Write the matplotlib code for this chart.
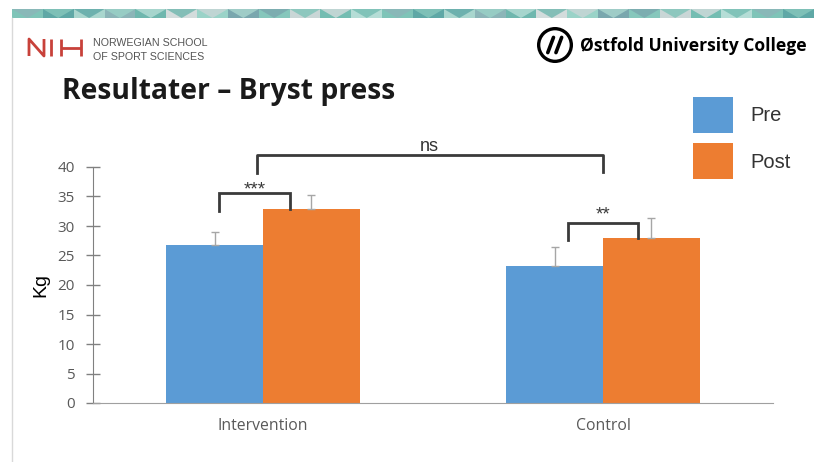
import matplotlib
matplotlib.use("Agg")
import matplotlib.pyplot as plt
from matplotlib.patches import Polygon, Rectangle, Circle
from matplotlib.lines import Line2D
import numpy as np

# ---- data ----
categories = ["Intervention", "Control"]
series_names = ["Pre", "Post"]
pre_values = [26.8, 23.3]
post_values = [32.9, 27.9]
pre_errors = [2.2, 3.1]
post_errors = [2.35, 3.5]
yticks = [0, 5, 10, 15, 20, 25, 30, 35, 40]
sig_labels = ["***", "**", "ns"]

BLUE = "#5B9BD5"
ORANGE = "#ED7D31"

W, H = 814, 462
fig = plt.figure(figsize=(W / 100, H / 100), dpi=100)
fig.patch.set_facecolor("white")

def fx(px):
    return px / W

def fy(py):
    return 1 - py / H

def fline(xs, ys, **kw):
    fig.lines.append(Line2D([fx(v) for v in xs], [fy(v) for v in ys],
                            transform=fig.transFigure, **kw))

# ---- decorative header band ----
band_cols = ["#7FC4B8", "#5FA8A6", "#A9D6CE", "#8CB5B8", "#6FB7AE", "#D3DCDC",
             "#9AD3C8", "#7AA7AE", "#86C7BC", "#C9D6D6", "#74BDB2", "#B5DDD6"]
x0, x1 = 12, 814
yt, yb = 9, 18
n = 26
step = (x1 - x0) / n
for i in range(n):
    xa = x0 + i * step
    col = band_cols[i % len(band_cols)]
    col2 = band_cols[(i * 5 + 3) % len(band_cols)]
    fig.patches.append(Rectangle((fx(xa), fy(yb)), step / W, (yb - yt) / H,
                                 transform=fig.transFigure, facecolor=col, edgecolor="none"))
    fig.patches.append(Polygon([(fx(xa), fy(yt)), (fx(xa + step), fy(yt)), (fx(xa + step / 2), fy(yb))],
                               closed=True, transform=fig.transFigure, facecolor=col2,
                               edgecolor="none", alpha=0.8))
# left border line
fline([12, 12], [18, 462], color="#D9D9D9", lw=1)

# ---- NIH logo (thin letters) ----
red = "#C8413A"
lkw = dict(color=red, lw=2.0, solid_capstyle="butt")
fline([29, 29, 44, 44], [56, 39, 56, 39], **lkw)          # N
fline([51, 51], [39, 56], **lkw)                          # I
fline([61, 61], [39, 56], **lkw)                          # H
fline([81, 81], [39, 56], **lkw)
fline([61, 81], [47.5, 47.5], **lkw)
fig.text(fx(93), fy(43), "NORWEGIAN SCHOOL", color="#555555", fontsize=7.7,
         family="Liberation Sans", va="center", ha="left")
fig.text(fx(93), fy(57), "OF SPORT SCIENCES", color="#555555", fontsize=7.7,
         family="Liberation Sans", va="center", ha="left")

# ---- Østfold logo ----
ax_logo = fig.add_axes([fx(536), fy(64), 38 / W, 38 / H])
ax_logo.set_xlim(-1, 1)
ax_logo.set_ylim(-1, 1)
ax_logo.set_aspect("equal")
ax_logo.axis("off")
ax_logo.add_patch(Circle((0, 0), 0.86, facecolor="white", edgecolor="black", lw=2.4))
ax_logo.plot([-0.38, -0.08], [-0.4, 0.4], color="black", lw=2.6, solid_capstyle="round")
ax_logo.plot([0.05, 0.35], [-0.4, 0.4], color="black", lw=2.6, solid_capstyle="round")
fig.text(fx(580), fy(46), "Østfold University College", color="black", fontsize=12.6,
         family="Open Sans", fontweight="bold", va="center", ha="left")

# ---- title ----
fig.text(fx(62), fy(92), "Resultater – Bryst press", color="#1a1a1a", fontsize=20.3,
         family="Open Sans", fontweight="bold", va="center", ha="left")

# ---- chart ----
ax = fig.add_axes([fx(93), fy(403), (773 - 93) / W, (403 - 167) / H])
x = np.arange(len(categories))
bw = 0.285
ax.bar(x - bw / 2, pre_values, bw, color=BLUE, label=series_names[0], zorder=2)
ax.bar(x + bw / 2, post_values, bw, color=ORANGE, label=series_names[1], zorder=2)
err_kw = dict(fmt="none", ecolor="#A6A6A6", elinewidth=1, capsize=3, capthick=1, zorder=3)
ax.errorbar(x - bw / 2, pre_values, yerr=[np.zeros(len(pre_errors)), pre_errors], **err_kw)
ax.errorbar(x + bw / 2, post_values, yerr=[np.zeros(len(post_errors)), post_errors], **err_kw)

ax.set_xlim(-0.5, 1.5)
ax.set_ylim(0, 40)
ax.set_yticks(yticks)
ax.set_xticks(x)
ax.set_xticklabels(categories, fontsize=11.3, color="#595959", family="Open Sans")
for lbl in ax.get_yticklabels():
    lbl.set_fontsize(11)
    lbl.set_color("#595959")
    lbl.set_family("Open Sans")
ax.tick_params(axis="x", length=0, pad=11)
ax.tick_params(axis="y", direction="inout", length=10, width=1, color="#808080", pad=8)
for s in ["top", "right"]:
    ax.spines[s].set_visible(False)
ax.spines["left"].set_color("#808080")
ax.spines["bottom"].set_color("#A0A0A0")
ax.set_ylabel("Kg", fontsize=14, family="Liberation Sans", color="black", labelpad=6)

# significance brackets
bc = "#3A3A3A"
def bracket(xl, xr, ytop, yl, yr, text, ty):
    ax.plot([xl, xl, xr, xr], [yl, ytop, ytop, yr], color=bc, lw=2, clip_on=False, zorder=4,
            solid_joinstyle="miter")
    ax.text((xl + xr) / 2, ty, text, ha="center", va="baseline", fontsize=13.5, color=bc,
            family="Liberation Sans", clip_on=False)

bracket(x[0] - 0.129, x[0] + 0.079, 35.6, 32.5, 32.9, sig_labels[0], 35.3)
bracket(x[1] - 0.103, x[1] + 0.103, 30.5, 27.6, 27.9, sig_labels[1], 31.1)
ax.plot([x[0] - 0.018, x[0] - 0.018, x[1], x[1]], [39.0, 42.0, 42.0, 39.2], color=bc, lw=2,
        clip_on=False, zorder=4)
ax.text(0.49, 42.0, sig_labels[2], ha="center", va="bottom", fontsize=13, color="#333333",
        family="Liberation Sans", clip_on=False)

# legend (drawn as figure-level swatches + labels)
for i, (name, col) in enumerate(zip(series_names, [BLUE, ORANGE])):
    top = 97 + i * 46
    fig.patches.append(Rectangle((fx(693), fy(top + 36)), 40 / W, 36 / H,
                                 transform=fig.transFigure, facecolor=col, edgecolor="none"))
    fig.text(fx(750), fy(top + 19), name, color="#333333", fontsize=14.5,
             family="Liberation Sans", va="center", ha="left")

fig.savefig("out.png", dpi=100)
